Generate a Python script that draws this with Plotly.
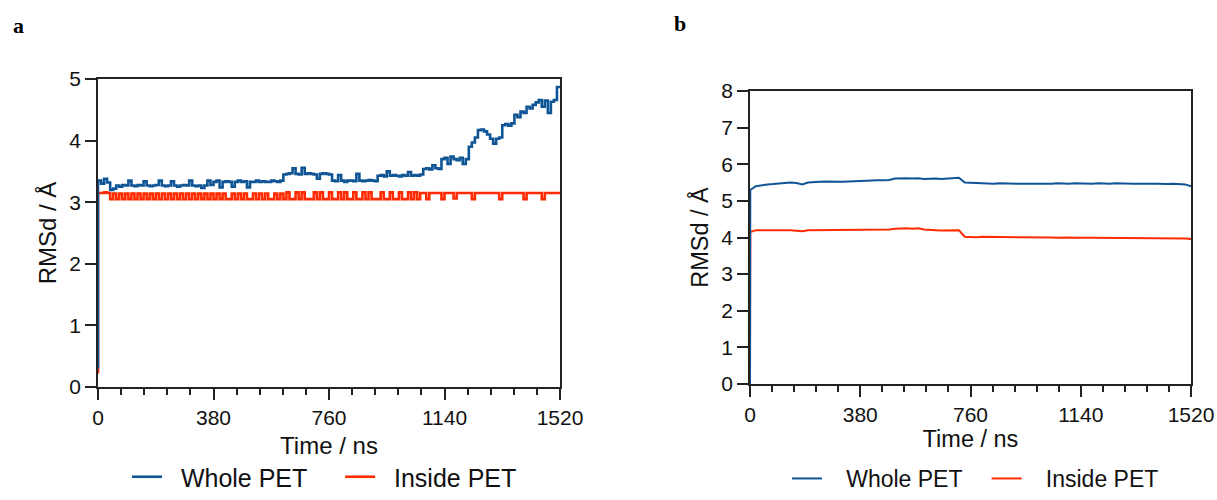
import plotly.graph_objects as go

# ---------------- Panel a data (time step 10 ns) ----------------
time_a = list(range(0, 1521, 10))
whole_a = [0.3,
    3.35, 3.30, 3.38, 3.32,
    3.20, 3.22,
    3.27, 3.25, 3.28, 3.27, 3.35, 3.27, 3.26, 3.28, 3.27, 3.34, 3.27, 3.26, 3.27, 3.28, 3.35, 3.27,
    3.26, 3.27, 3.34, 3.27, 3.25, 3.27, 3.28, 3.27, 3.35, 3.27, 3.26, 3.27, 3.23, 3.27, 3.35, 3.28,
    3.33, 3.35, 3.24, 3.33, 3.34, 3.33, 3.25, 3.33, 3.35, 3.33, 3.34, 3.24, 3.33, 3.33, 3.35, 3.33,
    3.34, 3.33, 3.33, 3.35, 3.34, 3.33, 3.35,
    3.45, 3.46, 3.47, 3.55, 3.46, 3.45, 3.56, 3.46, 3.47, 3.46, 3.45, 3.38, 3.46, 3.47, 3.46, 3.45,
    3.35, 3.34, 3.44, 3.35, 3.33, 3.35, 3.35, 3.34, 3.46, 3.35, 3.34, 3.35, 3.36, 3.35, 3.34,
    3.43, 3.44, 3.42, 3.50, 3.43, 3.44, 3.43, 3.42, 3.44, 3.43, 3.49, 3.43, 3.44, 3.43, 3.45,
    3.54, 3.55, 3.53, 3.60, 3.55, 3.54,
    3.70, 3.72, 3.62, 3.74, 3.70, 3.68, 3.72, 3.62, 3.70,
    3.90, 3.97, 4.05,
    4.17, 4.18, 4.15, 4.10,
    4.03, 3.95, 4.03, 4.05,
    4.25, 4.27, 4.24, 4.28,
    4.42, 4.38, 4.47, 4.45,
    4.55, 4.52, 4.58,
    4.62, 4.66, 4.55, 4.65, 4.45, 4.63, 4.66,
    4.87]
inside_a = [0.22,
    3.15, 3.15, 3.16, 3.15,
    # t 50-380: dense flicker band
    3.05, 3.14, 3.05, 3.14, 3.05, 3.14, 3.05, 3.14, 3.05, 3.14, 3.05, 3.14, 3.05, 3.14, 3.05, 3.14, 3.05,
    3.14, 3.05, 3.14, 3.05, 3.14, 3.05, 3.14, 3.05, 3.14, 3.05, 3.14, 3.05, 3.14, 3.05, 3.14, 3.05, 3.14,
    # t 390-610
    3.05, 3.14, 3.05, 3.14, 3.05, 3.05, 3.14, 3.05, 3.14, 3.05, 3.14, 3.05, 3.05, 3.14, 3.05, 3.14,
    3.05, 3.14, 3.05, 3.05, 3.14, 3.05, 3.14,
    # t 620-1060: baseline 3.05 with spikes
    3.05, 3.16, 3.05, 3.05, 3.16, 3.05, 3.16, 3.05, 3.05, 3.05, 3.16, 3.05, 3.16, 3.05, 3.05,
    3.16, 3.05, 3.05, 3.16, 3.05, 3.16, 3.05, 3.05, 3.16, 3.05, 3.05, 3.16, 3.05, 3.16, 3.05,
    3.05, 3.05, 3.16, 3.05, 3.05, 3.16, 3.05, 3.05, 3.16, 3.05, 3.05, 3.16, 3.05, 3.16, 3.05,
    # t 1070-1520: baseline 3.15 with dips
    3.15, 3.15, 3.05, 3.15, 3.15, 3.15, 3.15, 3.05, 3.15, 3.15, 3.15, 3.06, 3.15, 3.15, 3.15, 3.15,
    3.15, 3.05, 3.15, 3.15, 3.15, 3.15, 3.15, 3.15, 3.15, 3.15, 3.05, 3.15, 3.15, 3.15, 3.15, 3.15,
    3.15, 3.15, 3.05, 3.15, 3.15, 3.15, 3.15, 3.15, 3.05, 3.15, 3.15, 3.15, 3.15, 3.15]

# ---------------- Panel b data ----------------
time_b = [0, 1] + list(range(20, 1521, 20))
whole_b = [0.0, 5.30,
    5.40, 5.43, 5.45, 5.46, 5.48, 5.50, 5.50, 5.49, 5.45, 5.50,
    5.52, 5.52, 5.53, 5.52, 5.53, 5.52, 5.53, 5.54, 5.54, 5.55,
    5.55, 5.56, 5.56, 5.57, 5.61, 5.62, 5.62, 5.61, 5.62, 5.60,
    5.61, 5.61, 5.60, 5.61, 5.62, 5.63, 5.50, 5.49, 5.48, 5.48,
    5.47, 5.47, 5.48, 5.47, 5.46, 5.47, 5.47, 5.46, 5.47, 5.47,
    5.46, 5.47, 5.48, 5.47, 5.47, 5.48, 5.47, 5.46, 5.47, 5.48,
    5.47, 5.47, 5.48, 5.47, 5.46, 5.47, 5.47, 5.46, 5.47, 5.47,
    5.46, 5.46, 5.47, 5.46, 5.45, 5.40]
inside_b = [0.0, 4.15,
    4.20, 4.21, 4.20, 4.20, 4.21, 4.20, 4.20, 4.19, 4.17, 4.20,
    4.20, 4.21, 4.20, 4.21, 4.21, 4.20, 4.21, 4.21, 4.20, 4.21,
    4.21, 4.21, 4.22, 4.22, 4.24, 4.25, 4.25, 4.24, 4.25, 4.22,
    4.20, 4.20, 4.19, 4.20, 4.21, 4.20, 4.02, 4.01, 4.01, 4.02,
    4.02, 4.01, 4.01, 4.00, 4.01, 4.00, 4.00, 4.00, 4.01, 4.00,
    4.00, 4.00, 3.99, 4.00, 4.00, 3.99, 4.00, 3.99, 3.99, 3.99,
    3.98, 3.99, 3.99, 3.98, 3.98, 3.99, 3.98, 3.98, 3.98, 3.98,
    3.98, 3.97, 3.98, 3.97, 3.97, 3.96]

x_ticks = [0, 380, 760, 1140, 1520]
y_ticks_a = [0, 1, 2, 3, 4, 5]
y_ticks_b = [0, 1, 2, 3, 4, 5, 6, 7, 8]

BLUE = "#0f5495"
RED = "#ff2a00"
AXC = "#222222"
FONT = "Liberation Sans, Arial, sans-serif"
NB = "\u00a0\u00a0"
NB_B = "\u00a0\u00a0\u00a0"
TAIL_A = "\u00a0" * 4
TAIL_B = "\u00a0" * 3

fig = go.Figure()

fig.add_trace(go.Scatter(x=time_a, y=inside_a, mode="lines", name=NB + "Inside PET",
                         line=dict(color=RED, width=2.6, shape="vh"),
                         xaxis="x", yaxis="y", legend="legend", legendrank=2))
fig.add_trace(go.Scatter(x=time_a, y=whole_a, mode="lines", name=NB + "Whole PET" + TAIL_A,
                         line=dict(color=BLUE, width=2.6, shape="vh"),
                         xaxis="x", yaxis="y", legend="legend", legendrank=1))
fig.add_trace(go.Scatter(x=time_b, y=inside_b, mode="lines", name=NB_B + "Inside PET",
                         line=dict(color=RED, width=2),
                         xaxis="x2", yaxis="y2", legend="legend2", legendrank=2))
fig.add_trace(go.Scatter(x=time_b, y=whole_b, mode="lines", name=NB_B + "Whole PET" + TAIL_B,
                         line=dict(color=BLUE, width=2),
                         xaxis="x2", yaxis="y2", legend="legend2", legendrank=1))

def xaxis_cfg(domain, anchor, tsize, titsize, standoff):
    return dict(domain=domain, anchor=anchor, range=[0, 1520], automargin=False,
                tickmode="array", tickvals=x_ticks, ticktext=[str(v) for v in x_ticks],
                ticks="outside", ticklen=11, tickwidth=1.5, tickcolor=AXC,
                minor=dict(dtick=76, tick0=0, ticks="outside", ticklen=6, tickwidth=1.5, tickcolor=AXC),
                showline=True, linecolor=AXC, linewidth=1.8, mirror=True,
                showgrid=False, zeroline=False,
                tickfont=dict(size=tsize, color="#111"),
                title=dict(text="Time / ns", font=dict(size=titsize, color="#111"), standoff=standoff))

def yaxis_cfg(domain, anchor, rng, tv, tsize, titsize, standoff):
    return dict(domain=domain, anchor=anchor, range=rng, automargin=False,
                tickmode="array", tickvals=tv, ticktext=[str(v) for v in tv],
                ticks="outside", ticklen=11, tickwidth=1.5, tickcolor=AXC,
                showline=True, linecolor=AXC, linewidth=1.8, mirror=True,
                showgrid=False, zeroline=False,
                tickfont=dict(size=tsize, color="#111"),
                title=dict(text="RMSd / Å", font=dict(size=titsize, color="#111"), standoff=standoff))

fig.update_layout(
    width=1217, height=500,
    margin=dict(l=0, r=0, t=0, b=0),
    paper_bgcolor="white", plot_bgcolor="white",
    font=dict(family=FONT, color="#111"),
    xaxis=xaxis_cfg([98 / 1217, 560 / 1217], "y", 21, 24, 9),
    yaxis=yaxis_cfg([113 / 500, 421 / 500], "x", [0, 5], y_ticks_a, 21, 24, 6),
    xaxis2=xaxis_cfg([750 / 1217, 1191 / 1217], "y2", 21, 23.5, 4),
    yaxis2=yaxis_cfg([116 / 500, 409 / 500], "x2", [0, 8], y_ticks_b, 21, 23.5, 6),
    legend=dict(orientation="h", x=127 / 1217, xanchor="left", y=0.0, yanchor="bottom",
                font=dict(size=25, color="#111"), itemwidth=30, bgcolor="rgba(0,0,0,0)"),
    legend2=dict(orientation="h", x=787 / 1217, xanchor="left", y=0.0, yanchor="bottom",
                 font=dict(size=23, color="#111"), itemwidth=30, bgcolor="rgba(0,0,0,0)"),
    showlegend=True,
    annotations=[
        dict(text="<b>a</b>", x=11 / 1217, y=1 - 25 / 500, xref="paper", yref="paper",
             xanchor="left", yanchor="middle", showarrow=False,
             font=dict(family="Liberation Serif, Times New Roman, serif", size=22, color="#000")),
        dict(text="<b>b</b>", x=672 / 1217, y=1 - 23 / 500, xref="paper", yref="paper",
             xanchor="left", yanchor="middle", showarrow=False,
             font=dict(family="Liberation Serif, Times New Roman, serif", size=22, color="#000")),
    ],
)

fig.write_html("out.html")
